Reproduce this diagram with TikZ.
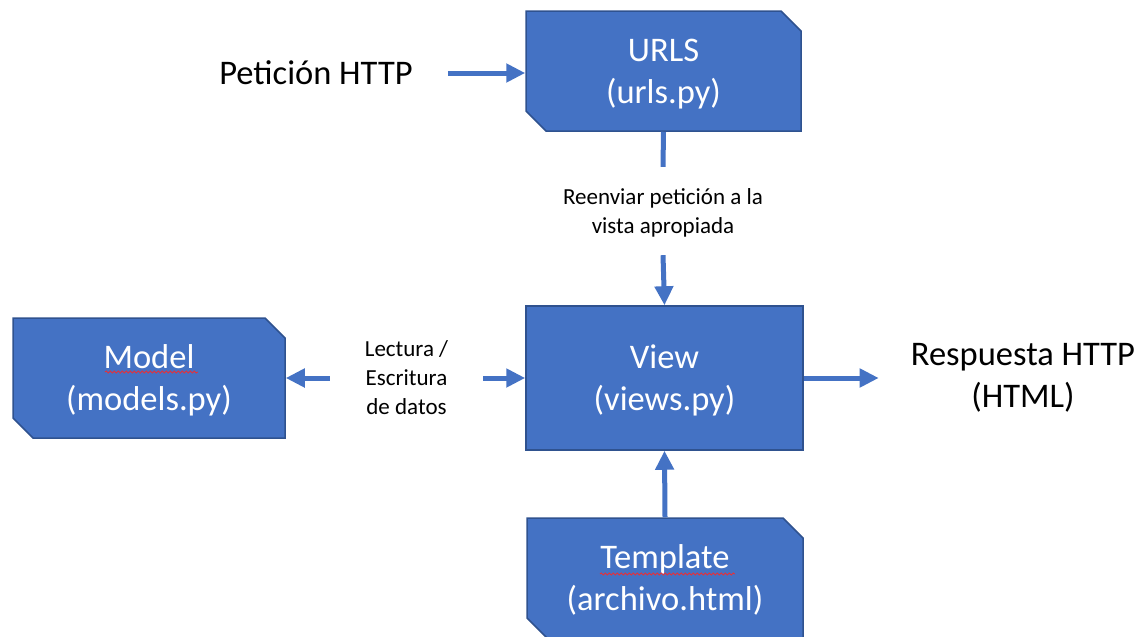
\documentclass[tikz,border=0pt]{standalone}
\usepackage{fontspec}
\setmainfont{Carlito}
\usetikzlibrary{shapes.misc,arrows.meta,decorations.pathmorphing}
\definecolor{azulcaja}{HTML}{4472C4}
\definecolor{bordecaja}{HTML}{2F528F}
\definecolor{rojoerror}{HTML}{E5303A}

\begin{document}
\begin{tikzpicture}[x=1pt,y=-1pt,
	caja/.style={fill=azulcaja,draw=bordecaja,line width=1.5pt,text=white,align=center,text depth=0pt,
		font=\fontsize{34.5}{42}\selectfont,minimum width=275pt,minimum height=120pt,inner sep=0pt},
	recortada/.style={caja,chamfered rectangle,chamfered rectangle corners={north east,south west},
		chamfered rectangle xsep=10pt,chamfered rectangle ysep=10pt},
	texto/.style={align=center,inner sep=0pt,text depth=0pt,font=\fontsize{34.5}{42}\selectfont},
	nota/.style={align=center,inner sep=0pt,text depth=0pt,font=\fontsize{23}{29}\selectfont},
	flecha/.style={azulcaja,line width=5pt,-{Triangle[length=19pt,width=18pt]}},
	linea/.style={azulcaja,line width=5pt},
	subrayado/.style={rojoerror,line width=0.9pt,decorate,decoration={snake,amplitude=1pt,segment length=4pt}}]
	\useasboundingbox (0,0) rectangle (1146,637);
	\node[recortada] (urls) at (663.5,71) {URLS\\(urls.py)};
	\node[caja,minimum width=277pt,minimum height=144pt] (view) at (664.5,378) {View\\(views.py)};
	\node[recortada,minimum width=272pt] (model) at (149,378) {Model\\(models.py)};
	\node[recortada,minimum width=276pt] (tmpl) at (665,578) {Template\\(archivo.html)};
	\node[texto] (peticion) at (316,73) {Petición HTTP};
	\node[texto] (respuesta) at (1023,375) {Respuesta HTTP\\(HTML)};
	\node[nota,minimum height=88pt] (reenvio) at (663,211) {Reenviar petición a la\\vista apropiada};
	\node[nota,minimum width=153pt] (lectura) at (406.5,378) {Lectura /\\Escritura\\de datos};
	\draw[flecha,shorten <=35pt] (peticion.east) -- (peticion.east -| urls.west);
	\draw[linea] (urls.south) -- (reenvio.north);
	\draw[flecha] (reenvio.south) -- (view.north);
	\draw[flecha] (lectura.west) -- (model.east);
	\draw[flecha] (lectura.east) -- (view.west);
	\draw[flecha,shorten >=32pt] (view.east) -- (respuesta.west |- view.east);
	\draw[flecha] (tmpl.north) -- (view.south);
	\draw[subrayado] (105,372) -- (198,372);
	\draw[subrayado] (600,574) -- (735,574);
\end{tikzpicture}
\end{document}
